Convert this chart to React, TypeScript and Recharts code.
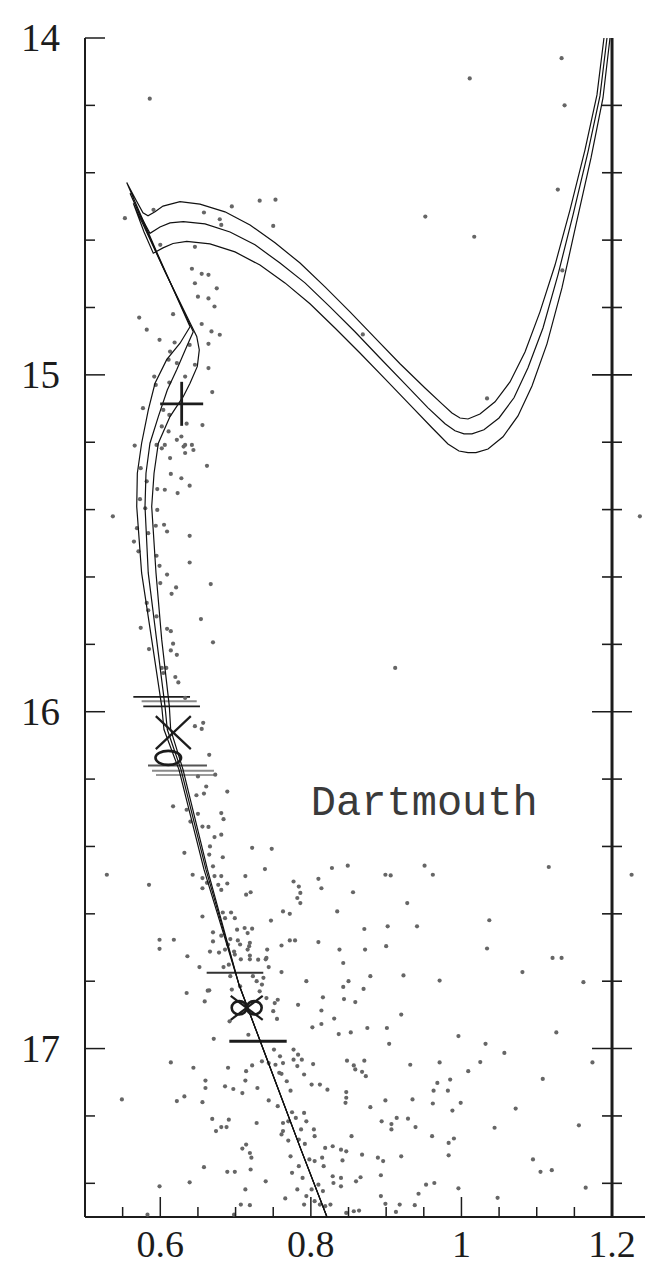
import { ComposedChart, ReferenceLine, Scatter, XAxis, YAxis } from "recharts";

const INK = "#1c1c1c";
const SERIF = '"Liberation Serif", "Times New Roman", serif';

const xTicks = [0.5, 0.55, 0.6, 0.65, 0.7, 0.75, 0.8, 0.85, 0.9, 0.95, 1, 1.05, 1.1, 1.15, 1.2];
const xMajor = [0.6, 0.8, 1, 1.2];
const xMajorLabels = ["0.6", "0.8", "1", "1.2"];
const yTicks = [14, 14.2, 14.4, 14.6, 14.8, 15, 15.2, 15.4, 15.6, 15.8, 16, 16.2, 16.4, 16.6, 16.8, 17, 17.2, 17.4];
const yMajor = [14, 15, 16, 17];
const yMajorLabels = ["14", "15", "16", "17"];

// isochrones, ordered from the lower main sequence up to the giant branch
const isoA = [
  [0.8214, 17.5], [0.7869, 17.3], [0.7364, 17.0], [0.7045, 16.81], [0.6581, 16.469], [0.6248, 16.172],
  [0.6049, 16.053], [0.6019, 15.984], [0.5886, 15.786], [0.5752, 15.588], [0.5687, 15.391], [0.5695, 15.292],
  [0.5752, 15.203], [0.5841, 15.104], [0.593, 15.025], [0.6085, 14.955], [0.6262, 14.906], [0.6395, 14.857],
  [0.597, 14.644], [0.5554, 14.429], [0.5677, 14.481], [0.577, 14.519], [0.5837, 14.528], [0.593, 14.516],
  [0.6036, 14.499], [0.6262, 14.486], [0.6527, 14.493], [0.6859, 14.516], [0.7192, 14.555], [0.7524, 14.608],
  [0.7856, 14.668], [0.8188, 14.739], [0.852, 14.813], [0.8852, 14.89], [0.9184, 14.967], [0.9516, 15.039],
  [0.9742, 15.086], [0.9874, 15.113], [0.9981, 15.128], [1.0087, 15.131], [1.0246, 15.116], [1.0446, 15.08],
  [1.0645, 15.021], [1.0844, 14.932], [1.1043, 14.813], [1.1243, 14.674], [1.1442, 14.51], [1.1641, 14.332],
  [1.18, 14.169], [1.1893, 14.0],
];
const isoB = [
  [0.8214, 17.5], [0.7869, 17.3], [0.7364, 17.0], [0.7045, 16.81], [0.6607, 16.469], [0.6275, 16.172],
  [0.6093, 16.053], [0.6063, 15.984], [0.5951, 15.786], [0.584, 15.588], [0.5797, 15.391], [0.581, 15.292],
  [0.5863, 15.203], [0.5974, 15.124], [0.6093, 15.045], [0.6218, 14.985], [0.6351, 14.916], [0.6438, 14.872],
  [0.6023, 14.674], [0.5598, 14.461], [0.573, 14.525], [0.5863, 14.58], [0.5996, 14.561], [0.6129, 14.549],
  [0.6306, 14.545], [0.6594, 14.552], [0.6926, 14.576], [0.7258, 14.614], [0.759, 14.668], [0.7922, 14.727],
  [0.8254, 14.798], [0.8586, 14.872], [0.8918, 14.95], [0.925, 15.027], [0.9556, 15.098], [0.9782, 15.145],
  [0.9914, 15.166], [1.0034, 15.175], [1.014, 15.175], [1.0299, 15.163], [1.0499, 15.128], [1.0698, 15.068],
  [1.0884, 14.979], [1.1083, 14.861], [1.1282, 14.703], [1.1482, 14.525], [1.1681, 14.338], [1.184, 14.172],
  [1.1933, 14.0],
];
const isoC = [
  [0.8214, 17.5], [0.7869, 17.3], [0.7364, 17.0], [0.7045, 16.81], [0.6627, 16.469], [0.6302, 16.172],
  [0.6138, 16.053], [0.612, 15.984], [0.6019, 15.786], [0.5943, 15.588], [0.5886, 15.391], [0.5917, 15.292],
  [0.5974, 15.203], [0.6129, 15.124], [0.6306, 15.064], [0.6395, 15.025], [0.6492, 14.975], [0.6518, 14.926],
  [0.6484, 14.886], [0.6063, 14.694], [0.5642, 14.491], [0.5784, 14.576], [0.5907, 14.639], [0.6036, 14.623],
  [0.6169, 14.61], [0.6351, 14.604], [0.666, 14.611], [0.6992, 14.635], [0.7324, 14.674], [0.7656, 14.727],
  [0.7988, 14.789], [0.832, 14.861], [0.8652, 14.935], [0.8985, 15.012], [0.9317, 15.089], [0.9609, 15.157],
  [0.9821, 15.205], [0.9967, 15.226], [1.0087, 15.231], [1.0193, 15.231], [1.0353, 15.22], [1.0552, 15.184],
  [1.0751, 15.122], [1.0937, 15.033], [1.1136, 14.908], [1.1335, 14.742], [1.1521, 14.555], [1.1721, 14.356],
  [1.188, 14.178], [1.1973, 14.0],
];

// photometry (colour, magnitude)
const stars = [
  [0.586, 14.18], [1.011, 14.12], [1.133, 14.06], [1.137, 14.2], [1.128, 14.45], [1.017, 14.59], [0.952, 14.53],
  [0.869, 14.88], [1.134, 14.69], [1.034, 15.07], [0.912, 15.87], [1.237, 15.42], [0.537, 15.42],
  [0.553, 14.535], [0.591, 14.51], [0.658, 14.518], [0.679, 14.538], [0.681, 14.555], [0.695, 14.5], [0.732, 14.483],
  [0.753, 14.48], [0.75, 14.558], [0.646, 14.62], [0.6, 14.614], [0.642, 14.685], [0.655, 14.7], [0.664, 14.703],
  [0.646, 14.728], [0.675, 14.743], [0.65, 14.768], [0.664, 14.773], [0.672, 14.797], [0.617, 14.82], [0.572, 14.83],
  [0.655, 14.849], [0.668, 14.871], [0.679, 14.881], [0.582, 14.866], [0.599, 14.896], [0.619, 14.904], [0.613, 14.931],
  [0.664, 14.908], [0.639, 14.911], [0.622, 14.965], [0.611, 14.955], [0.646, 14.97], [0.664, 14.98], [0.633, 15.005],
  [0.592, 15.005], [0.612, 15.023], [0.594, 15.03], [0.669, 15.051], [0.577, 15.099], [0.604, 15.104], [0.612, 15.119],
  [0.635, 15.145], [0.656, 15.149], [0.602, 15.153], [0.611, 15.168], [0.628, 15.183], [0.566, 15.21], [0.595, 15.208],
  [0.606, 15.208], [0.622, 15.193], [0.633, 15.208], [0.642, 15.208],
  [0.602, 15.218], [0.631, 15.213], [0.644, 15.223], [0.633, 15.232], [0.613, 15.247], [0.662, 15.27], [0.574, 15.277],
  [0.614, 15.294], [0.628, 15.307], [0.639, 15.329], [0.582, 15.316], [0.596, 15.339], [0.606, 15.341], [0.623, 15.351],
  [0.573, 15.369], [0.58, 15.396], [0.596, 15.401], [0.594, 15.448], [0.605, 15.445], [0.609, 15.465], [0.584, 15.47],
  [0.569, 15.455], [0.639, 15.478], [0.565, 15.495], [0.571, 15.524], [0.595, 15.537], [0.599, 15.567], [0.639, 15.557],
  [0.609, 15.593], [0.6, 15.618], [0.621, 15.631], [0.615, 15.65], [0.667, 15.621], [0.582, 15.677], [0.584, 15.699],
  [0.595, 15.717], [0.654, 15.725], [0.574, 15.751], [0.609, 15.754], [0.614, 15.761], [0.617, 15.798], [0.67, 15.794],
  [0.585, 15.814], [0.614, 15.818], [0.622, 15.831], [0.602, 15.87], [0.608, 15.87], [0.604, 15.885], [0.62, 15.897],
  [0.624, 15.913], [0.633, 15.959], [0.657, 16.033], [0.646, 16.043],
  [0.655, 16.051], [0.665, 16.128], [0.65, 16.192], [0.661, 16.222], [0.689, 16.237], [0.648, 16.248], [0.658, 16.243],
  [0.673, 16.187],
  [0.617, 16.281], [0.635, 16.291], [0.681, 16.301], [0.684, 16.319], [0.65, 16.303], [0.64, 16.326], [0.656, 16.341],
  [0.664, 16.342], [0.681, 16.365], [0.672, 16.372], [0.666, 16.4], [0.722, 16.404], [0.748, 16.407], [0.632, 16.419],
  [0.665, 16.424], [0.683, 16.432], [0.67, 16.459], [0.739, 16.467], [0.713, 16.488], [0.529, 16.484], [0.585, 16.514],
  [0.643, 16.484], [0.656, 16.494], [0.672, 16.488], [0.681, 16.488], [0.662, 16.508], [0.677, 16.514], [0.689, 16.51],
  [0.656, 16.524], [0.681, 16.529], [0.714, 16.543], [0.72, 16.536], [0.828, 16.464], [0.849, 16.457], [0.899, 16.484],
  [0.906, 16.486], [0.951, 16.457], [0.962, 16.484], [1.116, 16.461], [1.226, 16.484], [0.777, 16.504], [0.784, 16.519],
  [0.786, 16.538], [0.81, 16.496], [0.814, 16.524], [0.856, 16.536], [0.782, 16.553], [0.786, 16.568], [0.928, 16.568],
  [0.763, 16.593], [0.772, 16.6], [0.835, 16.593], [0.656, 16.608], [0.683, 16.596], [0.694, 16.596], [0.686, 16.613],
  [0.699, 16.613], [0.747, 16.62], [1.037, 16.619], [0.871, 16.645], [0.902, 16.637], [0.941, 16.637], [0.67, 16.655],
  [0.702, 16.647], [0.712, 16.642], [0.722, 16.644], [0.716, 16.657], [0.681, 16.665], [0.693, 16.675], [0.703, 16.679],
  [0.719, 16.686], [0.599, 16.677], [0.618, 16.677], [0.599, 16.704], [0.67, 16.682], [0.761, 16.694], [0.772, 16.679],
  [0.779, 16.679], [0.81, 16.684], [0.838, 16.706], [0.872, 16.706], [0.9, 16.696], [1.034, 16.703], [0.636, 16.726],
  [0.666, 16.712], [0.678, 16.715], [0.686, 16.706], [0.698, 16.712], [0.716, 16.706], [0.742, 16.706], [0.707, 16.735],
  [0.719, 16.735], [0.74, 16.735], [0.843, 16.746], [0.652, 16.758], [0.684, 16.758], [0.691, 16.751], [0.744, 16.758],
  [1.121, 16.731], [1.133, 16.731], [0.761, 16.773], [1.081, 16.773], [0.879, 16.785], [0.923, 16.783], [0.794, 16.8],
  [0.85, 16.8], [0.971, 16.798], [1.162, 16.803], [0.693, 16.785], [0.723, 16.785], [0.728, 16.8], [0.737, 16.79],
  [0.735, 16.81], [0.843, 16.817], [0.87, 16.823],
  [0.69, 16.691], [0.699, 16.721], [0.706, 16.691], [0.718, 16.696], [0.719, 16.724], [0.73, 16.736], [0.741, 16.731],
  [0.635, 16.835], [0.659, 16.86], [0.665, 16.827], [0.695, 16.825], [0.706, 16.815], [0.732, 16.83], [0.741, 16.85],
  [0.752, 16.865], [0.75, 16.889], [0.755, 16.912], [0.783, 16.87], [0.692, 16.919], [0.671, 16.971], [0.717, 16.959],
  [0.777, 17.003], [0.783, 17.018], [0.644, 17.057], [0.69, 17.057], [0.759, 17.023], [0.763, 17.043],
  [0.663, 16.828], [0.756, 16.855], [0.816, 16.848], [0.844, 16.853], [0.859, 16.862], [0.814, 16.887], [0.831, 16.911],
  [0.92, 16.899], [0.802, 16.937], [0.814, 16.927], [0.853, 16.952], [0.875, 16.939], [0.901, 16.939], [0.837, 16.957],
  [0.904, 16.986], [0.996, 16.963], [1.032, 16.986], [1.057, 17.013], [1.126, 16.952], [0.751, 17.003], [0.614, 17.041],
  [0.714, 17.067], [0.722, 17.05], [0.735, 17.038], [0.744, 17.043], [0.753, 17.048], [0.758, 17.072], [0.777, 17.033],
  [0.788, 17.033], [0.782, 17.052], [0.803, 17.046], [0.848, 17.036], [0.857, 17.05], [0.871, 17.036], [0.932, 17.048],
  [0.971, 17.041], [1.025, 17.04], [1.174, 17.041], [0.859, 17.062], [0.868, 17.069], [0.873, 17.082], [1.009, 17.067],
  [1.108, 17.09], [0.66, 17.095], [0.66, 17.117], [0.713, 17.095], [0.686, 17.112], [0.697, 17.12], [0.709, 17.132],
  [0.729, 17.117], [0.761, 17.075], [0.768, 17.097], [0.773, 17.125], [0.791, 17.077], [0.801, 17.107], [0.812, 17.107],
  [0.822, 17.122], [0.847, 17.129], [0.847, 17.146], [0.846, 17.161], [0.899, 17.154], [0.935, 17.151], [0.963, 17.125],
  [0.968, 17.102], [0.985, 17.092], [0.982, 17.125], [0.962, 17.163], [0.999, 17.161], [0.988, 17.184], [1.072, 17.178],
  [0.549, 17.151], [0.622, 17.156], [0.632, 17.142], [0.656, 17.159], [0.744, 17.154], [0.756, 17.171], [0.879, 17.174],
  [0.669, 17.209], [0.691, 17.211], [0.674, 17.245], [0.681, 17.233], [0.688, 17.233], [0.728, 17.221], [0.763, 17.221],
  [0.775, 17.189], [0.791, 17.191], [0.794, 17.216], [0.78, 17.206], [0.77, 17.216], [0.763, 17.245], [0.787, 17.24],
  [0.804, 17.24], [0.805, 17.26], [0.784, 17.27], [0.77, 17.273], [0.761, 17.255], [0.792, 17.283], [0.854, 17.26],
  [0.894, 17.216], [0.907, 17.224], [0.907, 17.24], [0.914, 17.206], [0.929, 17.208], [0.939, 17.233], [0.961, 17.26],
  [0.983, 17.28], [0.99, 17.267], [0.983, 17.317], [1.044, 17.235], [1.156, 17.228], [1.095, 17.329], [1.105, 17.366],
  [1.12, 17.361], [1.165, 17.413], [0.709, 17.297], [0.714, 17.285], [0.719, 17.31], [0.721, 17.324], [0.658, 17.352],
  [0.689, 17.366], [0.699, 17.366], [0.72, 17.359], [0.74, 17.394], [0.773, 17.32], [0.775, 17.369], [0.784, 17.349],
  [0.789, 17.384], [0.798, 17.329], [0.805, 17.334], [0.815, 17.324], [0.817, 17.349], [0.819, 17.295], [0.829, 17.29],
  [0.84, 17.3], [0.847, 17.305], [0.842, 17.332], [0.868, 17.315], [0.889, 17.324], [0.896, 17.334], [0.92, 17.32],
  [0.829, 17.379], [0.83, 17.399], [0.84, 17.384], [0.84, 17.409], [0.86, 17.394], [0.866, 17.382], [0.893, 17.376],
  [0.953, 17.404], [0.964, 17.399], [0.943, 17.431], [0.996, 17.415], [1.048, 17.443], [0.599, 17.409], [0.639, 17.397],
  [0.713, 17.418], [0.766, 17.445], [0.782, 17.418], [0.794, 17.438], [0.801, 17.418], [0.81, 17.404], [0.816, 17.423],
  [0.805, 17.453], [0.819, 17.468], [0.826, 17.463], [0.791, 17.463], [0.812, 17.463], [0.847, 17.488], [0.857, 17.483],
  [0.864, 17.481], [0.893, 17.438], [0.899, 17.461], [0.913, 17.485], [0.918, 17.463], [0.938, 17.465], [0.707, 17.463],
  [0.719, 17.465], [0.583, 17.493], [0.698, 17.493],
];

// horizontal bars: magnitude, colour range, shade, width
const bars = [
  { y: 15.956, x1: 0.5642, x2: 0.6395, color: "#1c1c1c", w: 1.8 },
  { y: 15.969, x1: 0.5752, x2: 0.6484, color: "#8a8a8a", w: 2 },
  { y: 15.984, x1: 0.5774, x2: 0.6527, color: "#1c1c1c", w: 1.8 },
  { y: 16.16, x1: 0.5837, x2: 0.662, color: "#555555", w: 2 },
  { y: 16.175, x1: 0.589, x2: 0.6713, color: "#8a8a8a", w: 2 },
  { y: 16.188, x1: 0.5943, x2: 0.674, color: "#9a9a9a", w: 2 },
  { y: 16.775, x1: 0.6616, x2: 0.7368, color: "#333333", w: 2 },
  { y: 16.978, x1: 0.6917, x2: 0.7679, color: "#1c1c1c", w: 3 },
];

const plusMarks = [{ x: 0.6284, y: 15.086 }];
const crossMarks = [{ x: 0.6173, y: 16.062, hw: 17.5, hh: 16.5 }, { x: 0.7148, y: 16.879, hw: 16, hh: 12 }];
const ovalMarks = [{ x: 0.6106, y: 16.137, rx: 12.8, ry: 7 }, { x: 0.7048, y: 16.879, rx: 7.5, ry: 6.7 }, { x: 0.7247, y: 16.879, rx: 7.5, ry: 6.7 }];
const modelLabel = [{ x: 0.8, y: 16.306, text: "Dartmouth" }];

const near = (a: number, b: number) => Math.abs(a - b) < 1e-6;
const toPts = (arr: number[][]) => arr.map(([x, y]) => ({ x, y }));
const dividerTicks = yTicks.filter((v) => v > 14).map((y) => ({ x: 1.2, y, major: yMajor.some((m) => near(m, y)) }));

function BottomTick(props: any) {
  const { x, y, payload } = props;
  const i = xMajor.findIndex((m) => near(m, payload.value));
  return (
    <g>
      <line x1={x} x2={x} y1={y} y2={y - (i >= 0 ? 20 : 10)} stroke={INK} strokeWidth={1.5} />
      {i >= 0 && (
        <text x={x} y={y + 40} textAnchor="middle" fontFamily={SERIF} fontSize={38} fill={INK}>
          {xMajorLabels[i]}
        </text>
      )}
    </g>
  );
}

function TopTick(props: any) {
  const { x, y, payload } = props;
  const major = xMajor.some((m) => near(m, payload.value));
  return <line x1={x} x2={x} y1={y} y2={y + (major ? 20 : 10)} stroke={INK} strokeWidth={1.5} />;
}

function LeftTick(props: any) {
  const { x, y, payload } = props;
  const i = yMajor.findIndex((m) => near(m, payload.value));
  return (
    <g>
      <line x1={x} x2={x + (i >= 0 ? 20 : 10)} y1={y} y2={y} stroke={INK} strokeWidth={1.5} />
      {i >= 0 && (
        <text x={x - 25} y={y + 13} textAnchor="end" fontFamily={SERIF} fontSize={39} fill={INK}>
          {yMajorLabels[i]}
        </text>
      )}
    </g>
  );
}

const noDot = () => <g />;

export default function App() {
  return (
    <ComposedChart width={646} height={1261} margin={{ top: 30, right: 9, bottom: 0, left: 0 }}>
      <XAxis
        type="number"
        dataKey="x"
        domain={[0.5, 1.2438]}
        ticks={xTicks}
        interval={0}
        allowDataOverflow
        height={52}
        tickSize={0}
        tickMargin={0}
        tickLine={false}
        tick={<BottomTick />}
        axisLine={{ stroke: INK, strokeWidth: 2 }}
      />
      <XAxis
        xAxisId="top"
        orientation="top"
        type="number"
        dataKey="x"
        domain={[0.5, 1.2438]}
        ticks={xTicks}
        interval={0}
        allowDataOverflow
        height={0}
        tickSize={0}
        tickMargin={0}
        tickLine={false}
        tick={<TopTick />}
        axisLine={{ stroke: INK, strokeWidth: 2 }}
      />
      <YAxis
        type="number"
        dataKey="y"
        domain={[14, 17.5]}
        reversed
        ticks={yTicks}
        interval={0}
        allowDataOverflow
        width={77}
        tickSize={0}
        tickMargin={0}
        tickLine={false}
        tick={<LeftTick />}
        axisLine={{ stroke: INK, strokeWidth: 2 }}
      />
      <ReferenceLine x={1.2} stroke={INK} strokeWidth={3} />
      <Scatter
        data={dividerTicks}
        isAnimationActive={false}
        shape={(p: any) => {
          const len = p.payload.major ? 20 : 10;
          return <line x1={p.cx - len} x2={p.cx + len} y1={p.cy} y2={p.cy} stroke={INK} strokeWidth={1.6} />;
        }}
      />
      <Scatter
        data={toPts(stars)}
        isAnimationActive={false}
        shape={(p: any) => <circle cx={p.cx} cy={p.cy} r={2.1} fill="#666666" />}
      />
      {[isoA, isoB, isoC].map((iso, k) => (
        <Scatter
          key={k}
          data={toPts(iso)}
          line={{ stroke: "#111", strokeWidth: 1.2, fill: "none" }}
          lineType="joint"
          shape={noDot}
          isAnimationActive={false}
        />
      ))}
      {bars.map((b, k) => (
        <ReferenceLine
          key={k}
          segment={[{ x: b.x1, y: b.y }, { x: b.x2, y: b.y }]}
          stroke={b.color}
          strokeWidth={b.w}
        />
      ))}
      <Scatter
        data={plusMarks}
        isAnimationActive={false}
        shape={(p: any) => (
          <g stroke={INK} strokeWidth={2.8}>
            <line x1={p.cx - 21.5} x2={p.cx + 21.5} y1={p.cy} y2={p.cy} />
            <line x1={p.cx} x2={p.cx} y1={p.cy - 22} y2={p.cy + 22} />
          </g>
        )}
      />
      <Scatter
        data={crossMarks}
        isAnimationActive={false}
        shape={(p: any) => {
          const { hw, hh } = p.payload;
          return (
            <g stroke={INK} strokeWidth={2.2}>
              <line x1={p.cx - hw} x2={p.cx + hw} y1={p.cy - hh} y2={p.cy + hh} />
              <line x1={p.cx - hw} x2={p.cx + hw} y1={p.cy + hh} y2={p.cy - hh} />
            </g>
          );
        }}
      />
      <Scatter
        data={ovalMarks}
        isAnimationActive={false}
        shape={(p: any) => (
          <ellipse cx={p.cx} cy={p.cy} rx={p.payload.rx} ry={p.payload.ry} fill="none" stroke={INK} strokeWidth={2.6} />
        )}
      />
      <Scatter
        data={modelLabel}
        isAnimationActive={false}
        shape={(p: any) => (
          <text x={p.cx} y={p.cy} fontFamily='"Liberation Mono", monospace' fontSize={42} fill="#3a3a3a">
            {p.payload.text}
          </text>
        )}
      />
    </ComposedChart>
  );
}
